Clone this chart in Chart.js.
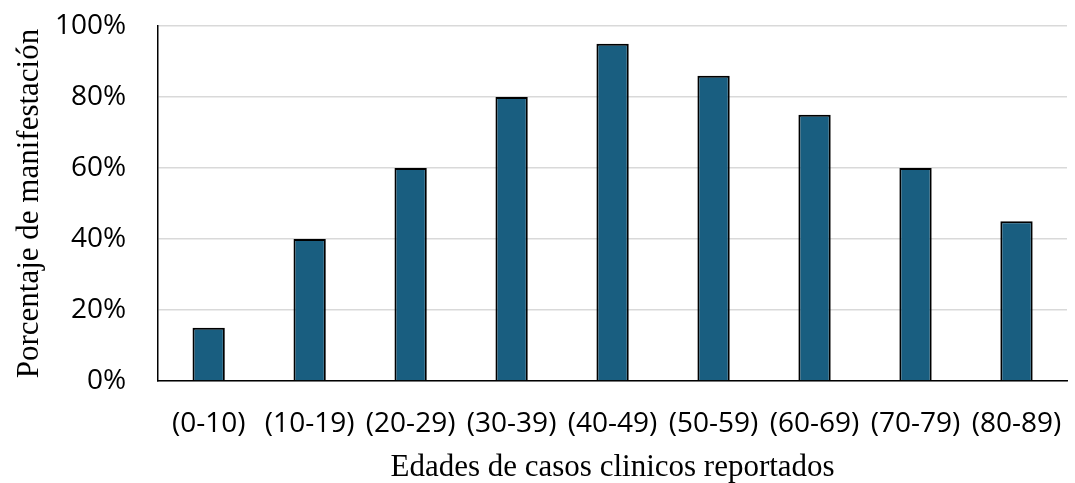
<!DOCTYPE html>
<html>
<head>
<meta charset="utf-8">
<script src="https://cdn.jsdelivr.net/npm/chart.js@4"></script>
<style>
    html, body { margin: 0; padding: 0; background: #fff; }
    #wrap { width: 1075px; height: 483px; }
</style>
</head>
<body>
<div id="wrap"><canvas id="barChart" width="1075" height="483"></canvas></div>
<script>
// age groups and % of cases with manifestation
const ageGroups = ['(0-10)', '(10-19)', '(20-29)', '(30-39)', '(40-49)', '(50-59)', '(60-69)', '(70-79)', '(80-89)'];
const percentValues = [15, 40, 60, 80, 95, 86, 75, 60, 45];
const yTicks = [0, 20, 40, 60, 80, 100];

const tickFont = { family: "'Open Sans', 'Liberation Sans', sans-serif", size: 28, lineHeight: 1.0 };
const titleFont = { family: "'Liberation Serif', 'DejaVu Serif', serif", size: 31, lineHeight: 1.0 };

const xTickPad = 29;
const yTickPad = 32;

var ctx = document.getElementById('barChart');
new Chart(ctx, {
    type: 'bar',
    data: {
        labels: ageGroups,
        datasets: [{
            data: percentValues,
            backgroundColor: '#195e80',
            borderColor: '#000000',
            borderWidth: 2,
            barPercentage: 0.32,
            categoryPercentage: 1.0
        }]
    },
    options: {
        responsive: false,
        animation: false,
        devicePixelRatio: 1,
        layout: { padding: { top: 26, right: 8, left: 14, bottom: 0 } },
        plugins: {
            legend: { display: false },
            tooltip: { enabled: false }
        },
        scales: {
            x: {
                grid: { display: false, drawTicks: false },
                border: { color: '#000', width: 1.5 },
                ticks: {
                    color: '#000',
                    font: tickFont,
                    padding: xTickPad,
                    autoSkip: false,
                    maxRotation: 0
                },
                title: {
                    display: true,
                    text: 'Edades de casos clinicos reportados',
                    color: '#000',
                    font: titleFont,
                    padding: { top: 14, bottom: 0 }
                },
                // labels may hang over the edges like in the original,
                // and tick padding is only wanted on the axis side
                afterFit: function (s) {
                    s.paddingLeft = 0;
                    s.paddingRight = 0;
                    s.height -= xTickPad;
                }
            },
            y: {
                min: 0,
                max: 100,
                afterBuildTicks: function (axis) {
                    axis.ticks = yTicks.map(v => ({ value: v }));
                },
                grid: { color: '#d9d9d9', lineWidth: 1.5, drawTicks: false },
                border: { color: '#000', width: 1.5 },
                ticks: {
                    color: '#000',
                    font: tickFont,
                    padding: yTickPad,
                    callback: v => v + '%'
                },
                title: {
                    display: true,
                    text: 'Porcentaje de manifestación',
                    color: '#000',
                    font: titleFont,
                    padding: { top: 0, bottom: 10 }
                },
                afterFit: function (s) {
                    s.paddingTop = 0;
                    s.paddingBottom = 0;
                    s.width -= yTickPad;
                }
            }
        }
    }
});
</script>
</body>
</html>
